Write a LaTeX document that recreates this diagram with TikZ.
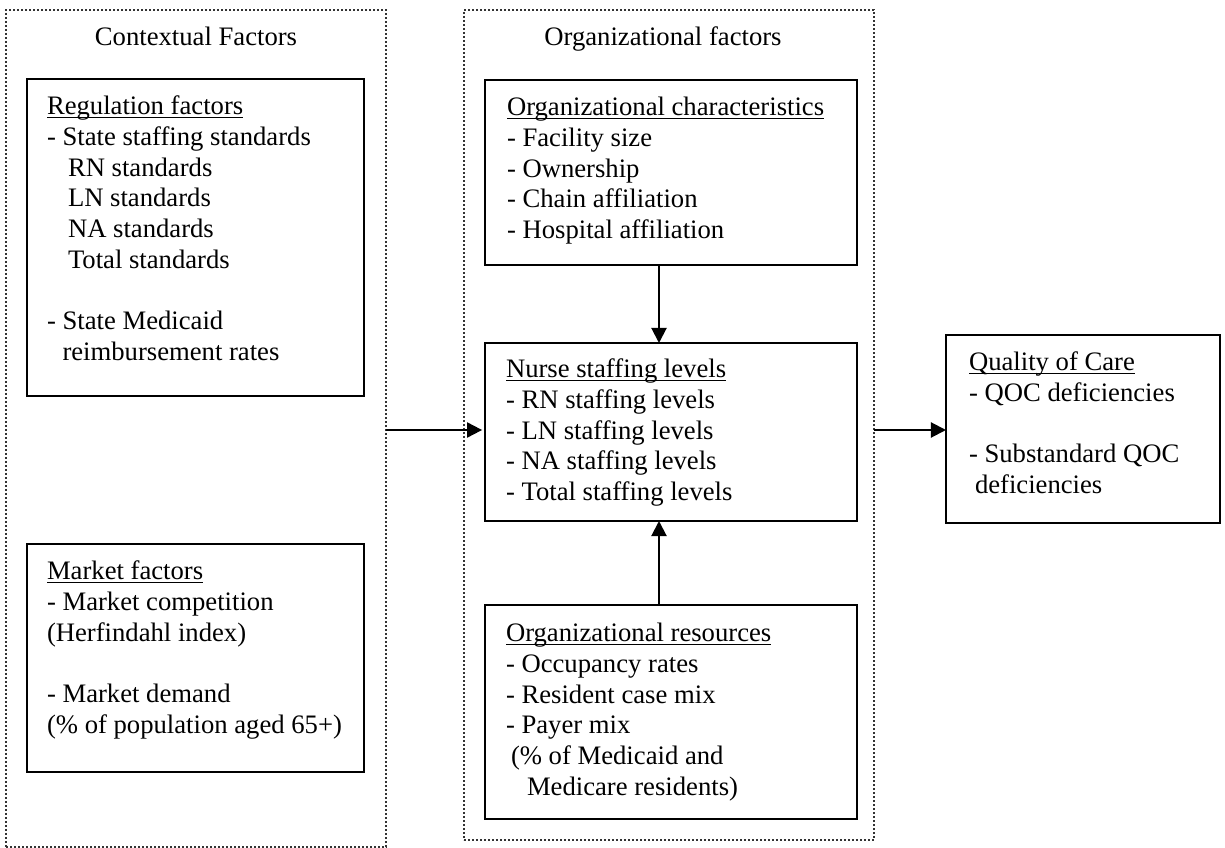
\documentclass[tikz,border=0pt]{standalone}
\usepackage{fontspec}
\setmainfont{Liberation Serif}
\usetikzlibrary{arrows.meta}

% drawing unit
\newlength\pxu
\setlength\pxu{0.45pt}

% underlined heading inside a box
\newcommand\headline[1]{\leavevmode\setbox0\hbox{#1}\rlap{\rule[-1.4pt]{\wd0}{0.6pt}}\box0}
% left-aligned text block whose reference point is the first baseline
\newcommand\textblock[1]{\parbox[t]{330\pxu}{\fontsize{12}{13.8}\selectfont\raggedright #1}}

\tikzset{
  group/.style={draw=black!80, line width=0.9pt, dash pattern=on 0.9pt off 0.9pt,
    anchor=north west, inner sep=0pt, outer sep=0pt},
  factorbox/.style={draw=black, line width=1pt, anchor=north west, inner sep=0pt, outer sep=0pt},
  boxtext/.style={anchor=base west, inner sep=0pt, outer sep=0pt},
  grouptitle/.style={anchor=base, inner sep=0pt, font=\fontsize{12}{13.8}\selectfont},
  link/.style={line width=0.9pt, -{Triangle[length=6.8pt,width=6.8pt]}}
}

\begin{document}
\begin{tikzpicture}[x=\pxu, y=-\pxu]
\useasboundingbox (0,0) rectangle (1225,848);

% dotted groups
\node[group, minimum width=380\pxu, minimum height=837\pxu] (ctxgroup) at (6,10) {};
\node[group, minimum width=410\pxu, minimum height=830\pxu] (orggroup) at (464,10) {};
\node[grouptitle] (ctxtitle) at (196,46) {Contextual Factors};
\node[grouptitle] (orgtitle) at (663,46) {Organizational factors};

% factor boxes
\node[factorbox, minimum width=337\pxu, minimum height=317\pxu] (reg) at (27,79) {};
\node[factorbox, minimum width=337\pxu, minimum height=228\pxu] (mkt) at (27,544) {};
\node[factorbox, minimum width=372\pxu, minimum height=185\pxu] (chr) at (485,80) {};
\node[factorbox, minimum width=372\pxu, minimum height=178\pxu] (nsl) at (485,343) {};
\node[factorbox, minimum width=372\pxu, minimum height=214\pxu] (res) at (485,605) {};
\node[factorbox, minimum width=274\pxu, minimum height=188\pxu] (qoc) at (946,335) {};

% box contents
\node[boxtext] (regtext) at (47,115) {\textblock{%
\headline{Regulation factors}\\
- State staffing standards\\
\hspace*{21\pxu}RN standards\\
\hspace*{21\pxu}LN standards\\
\hspace*{21\pxu}NA standards\\
\hspace*{21\pxu}Total standards\\
\mbox{}\\
- State Medicaid\\
\hspace*{15.5\pxu}reimbursement rates}};

\node[boxtext] (mkttext) at (47,580) {\textblock{%
\headline{Market factors}\\
- Market competition\\
(Herfindahl index)\\
\mbox{}\\
- Market demand\\
(\% of population aged 65+)}};

\node[boxtext] (chrtext) at (507,116) {\textblock{%
\headline{Organizational characteristics}\\
- Facility size\\
- Ownership\\
- Chain affiliation\\
- Hospital affiliation}};

\node[boxtext] (nsltext) at (506,378) {\textblock{%
\headline{Nurse staffing levels}\\
- RN staffing levels\\
- LN staffing levels\\
- NA staffing levels\\
- Total staffing levels}};

\node[boxtext] (restext) at (506,642) {\textblock{%
\headline{Organizational resources}\\
- Occupancy rates\\
- Resident case mix\\
- Payer mix\\
\hspace*{5\pxu}(\% of Medicaid and\\
\hspace*{21\pxu}Medicare residents)}};

\node[boxtext] (qoctext) at (969,371) {\textblock{%
\headline{Quality of Care}\\
- QOC deficiencies\\
\mbox{}\\
- Substandard QOC\\
\hspace*{6\pxu}deficiencies}};

% connectors
\coordinate (stem) at (659,0);
\coordinate (flow) at (0,430);
\draw[link, shorten >=1.3pt] (ctxgroup.east |- flow) -- (nsl.west |- flow);
\draw[link] (orggroup.east |- flow) -- (qoc.west |- flow);
\draw[link] (chr.south -| stem) -- (nsl.north -| stem);
\draw[link] (res.north -| stem) -- (nsl.south -| stem);
\end{tikzpicture}
\end{document}
